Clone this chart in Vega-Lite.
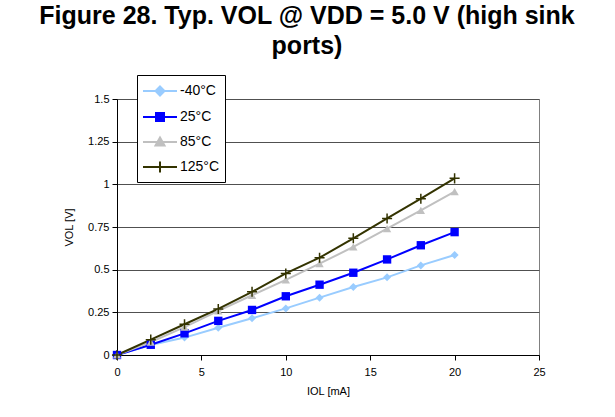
{
  "$schema": "https://vega.github.io/schema/vega-lite/v6.json",
  "width": 422,
  "height": 256,
  "autosize": {"type": "none"},
  "padding": {"left": 117, "top": 99, "right": 76, "bottom": 62},
  "background": "white",
  "title": {
    "text": ["Figure 28. Typ. VOL @ VDD = 5.0 V (high sink", "ports)"],
    "font": "Liberation Sans",
    "fontSize": 25,
    "fontWeight": "bold",
    "color": "black",
    "anchor": "middle",
    "frame": "group",
    "dx": -21,
    "offset": 16,
    "lineHeight": 30,
    "baseline": "top"
  },
  "data": {
    "values": [
      {"t": "-40°C", "i": 0, "v": 0},
      {"t": "-40°C", "i": 2, "v": 0.059},
      {"t": "-40°C", "i": 4, "v": 0.102},
      {"t": "-40°C", "i": 6, "v": 0.16},
      {"t": "-40°C", "i": 8, "v": 0.215},
      {"t": "-40°C", "i": 10, "v": 0.273},
      {"t": "-40°C", "i": 12, "v": 0.336},
      {"t": "-40°C", "i": 14, "v": 0.398},
      {"t": "-40°C", "i": 16, "v": 0.455},
      {"t": "-40°C", "i": 18, "v": 0.525},
      {"t": "-40°C", "i": 20, "v": 0.586},
      {"t": "25°C", "i": 0, "v": 0},
      {"t": "25°C", "i": 2, "v": 0.06},
      {"t": "25°C", "i": 4, "v": 0.127},
      {"t": "25°C", "i": 6, "v": 0.2},
      {"t": "25°C", "i": 8, "v": 0.264},
      {"t": "25°C", "i": 10, "v": 0.344},
      {"t": "25°C", "i": 12, "v": 0.412},
      {"t": "25°C", "i": 14, "v": 0.482},
      {"t": "25°C", "i": 16, "v": 0.56},
      {"t": "25°C", "i": 18, "v": 0.643},
      {"t": "25°C", "i": 20, "v": 0.72},
      {"t": "85°C", "i": 0, "v": 0},
      {"t": "85°C", "i": 2, "v": 0.076},
      {"t": "85°C", "i": 4, "v": 0.163},
      {"t": "85°C", "i": 6, "v": 0.258},
      {"t": "85°C", "i": 8, "v": 0.35},
      {"t": "85°C", "i": 10, "v": 0.44},
      {"t": "85°C", "i": 12, "v": 0.535},
      {"t": "85°C", "i": 14, "v": 0.633},
      {"t": "85°C", "i": 16, "v": 0.74},
      {"t": "85°C", "i": 18, "v": 0.848},
      {"t": "85°C", "i": 20, "v": 0.957},
      {"t": "125°C", "i": 0, "v": 0},
      {"t": "125°C", "i": 2, "v": 0.09},
      {"t": "125°C", "i": 4, "v": 0.18},
      {"t": "125°C", "i": 6, "v": 0.27},
      {"t": "125°C", "i": 8, "v": 0.37},
      {"t": "125°C", "i": 10, "v": 0.478},
      {"t": "125°C", "i": 12, "v": 0.57},
      {"t": "125°C", "i": 14, "v": 0.684},
      {"t": "125°C", "i": 16, "v": 0.8},
      {"t": "125°C", "i": 18, "v": 0.916},
      {"t": "125°C", "i": 20, "v": 1.035}
    ]
  },
  "encoding": {
    "x": {
      "field": "i",
      "type": "quantitative",
      "scale": {"domain": [0, 25], "nice": false},
      "axis": {
        "title": "IOL [mA]",
        "values": [0, 5, 10, 15, 20, 25],
        "grid": false,
        "labelFlush": false,
        "tickSize": 5,
        "labelPadding": 6,
        "titlePadding": 8
      }
    },
    "y": {
      "field": "v",
      "type": "quantitative",
      "scale": {"domain": [0, 1.5], "nice": false},
      "axis": {
        "title": "VOL [V]",
        "values": [0, 0.25, 0.5, 0.75, 1, 1.25, 1.5],
        "format": ".3~g",
        "grid": true,
        "tickSize": 5,
        "labelPadding": 3,
        "titlePadding": 13
      }
    },
    "color": {
      "field": "t",
      "type": "nominal",
      "sort": ["-40°C", "25°C", "85°C", "125°C"],
      "scale": {
        "domain": ["-40°C", "25°C", "85°C", "125°C"],
        "range": ["#99CCFF", "#0000FF", "#C0C0C0", "#333300"]
      },
      "legend": {
        "title": null,
        "orient": "none",
        "legendX": 20,
        "legendY": -24,
        "padding": 5,
        "rowPadding": 6,
        "symbolSize": 400,
        "symbolOpacity": 1,
        "labelOffset": 16,
        "labelFontSize": 14,
        "labelFont": "Liberation Sans",
        "labelColor": "black",
        "strokeColor": "black",
        "fillColor": "white",
        "symbolStrokeWidth": 2,
        "encode": {
          "symbols": {
            "update": {
              "fill": {"value": {"expr": "scale('color', datum.value)"}},
              "stroke": {"value": {"expr": "scale('color', datum.value)"}},
              "strokeWidth": {"value": 2},
              "opacity": {"value": 1},
              "fillOpacity": {"value": 1},
              "strokeOpacity": {"value": 1}
            }
          }
        }
      }
    }
  },
  "layer": [
    {
      "mark": {"type": "line", "strokeWidth": 2}
    },
    {
      "transform": [{"filter": "datum.t === '-40°C'"}],
      "mark": {"type": "point", "shape": "diamond", "filled": true, "size": 64, "opacity": 1}
    },
    {
      "transform": [{"filter": "datum.t === '25°C'"}],
      "mark": {"type": "point", "shape": "square", "filled": true, "size": 70, "opacity": 1}
    },
    {
      "transform": [{"filter": "datum.t === '85°C'"}],
      "mark": {"type": "point", "shape": "triangle-up", "filled": true, "size": 70, "opacity": 1}
    },
    {
      "transform": [{"filter": "datum.t === '125°C'"}],
      "mark": {"type": "point", "shape": "M-1.2,0H1.2M0,-1.2V1.2", "filled": false, "size": 70, "opacity": 1, "strokeWidth": 1.5}
    },
    {
      "mark": {"type": "point", "filled": true, "opacity": 0, "size": 10},
      "encoding": {
        "shape": {
          "field": "t",
          "type": "nominal",
          "sort": ["-40°C", "25°C", "85°C", "125°C"],
          "scale": {
            "domain": ["-40°C", "25°C", "85°C", "125°C"],
            "range": [
              "M-1,0H2.4M0.7,-0.45L1.15,0L0.7,0.45L0.25,0Z",
              "M-1,0H2.4M0.3,-0.4H1.1V0.4H0.3Z",
              "M-1,0H2.4M0.7,-0.45L1.15,0.35H0.25Z",
              "M-1,0H2.4M0.7,-0.55V0.55"
            ]
          },
          "legend": {
            "title": null,
            "orient": "none",
            "legendX": 20,
            "legendY": -24,
            "symbolSize": 400,
            "symbolOpacity": 1
          }
        }
      }
    }
  ],
  "config": {
    "view": {"stroke": "#808080", "strokeWidth": 1},
    "axis": {
      "domainColor": "black",
      "tickColor": "black",
      "gridColor": "#505050",
      "gridOpacity": 1,
      "labelFont": "Liberation Sans",
      "labelFontSize": 11,
      "labelColor": "black",
      "titleFont": "Liberation Sans",
      "titleFontSize": 11,
      "titleFontWeight": "normal",
      "titleColor": "black"
    }
  }
}
